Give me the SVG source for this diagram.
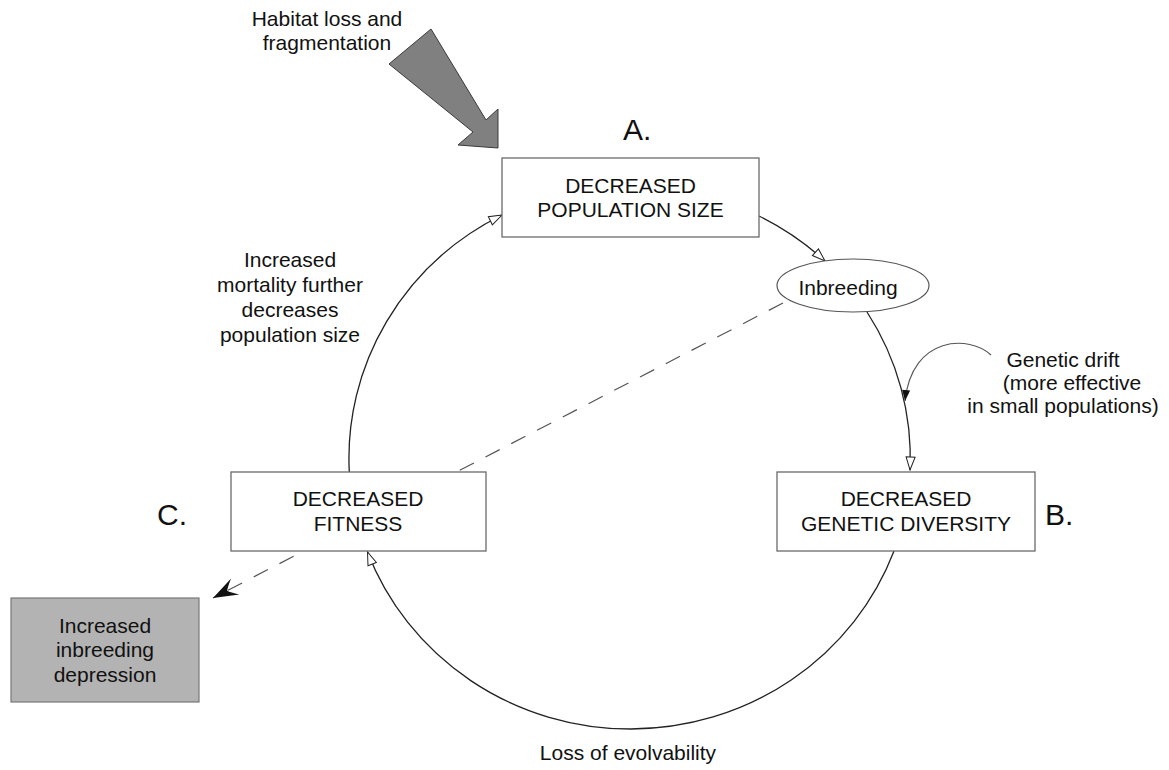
<svg xmlns="http://www.w3.org/2000/svg" width="1169" height="770" viewBox="0 0 1169 770">
<style>
.box{fill:#fff;stroke:#6a6a6a;stroke-width:1.3}
.t{font-family:"Liberation Sans",Arial,sans-serif;font-size:21px;fill:#111;text-anchor:middle}
.big{font-family:"Liberation Sans",Arial,sans-serif;font-size:30px;fill:#111}
.arc{fill:none;stroke:#222;stroke-width:1.3}
.dash{fill:none;stroke:#555;stroke-width:1.2;stroke-dasharray:16 13}
</style>
<defs>
<marker id="open" markerUnits="userSpaceOnUse" viewBox="-15 -6 16 12" markerWidth="16" markerHeight="12" refX="0" refY="0" orient="auto">
<path d="M0,0 L-13,-4.5 L-13,4.5 Z" fill="#fff" stroke="#222" stroke-width="1"/>
</marker>
<marker id="stealth" markerUnits="userSpaceOnUse" viewBox="-27 -11 28 22" markerWidth="28" markerHeight="22" refX="0" refY="0" orient="auto">
<path d="M0,0 L-25,-9 Q-18,-3 -16,0 Q-18,3 -25,9 Z" fill="#111" stroke="none"/>
</marker>
<marker id="solid" markerUnits="userSpaceOnUse" viewBox="-13 -6 14 12" markerWidth="14" markerHeight="12" refX="0" refY="0" orient="auto">
<path d="M0,0 L-11,-4 L-11,4 Z" fill="#111" stroke="none"/>
</marker>
</defs>
<rect width="1169" height="770" fill="#fff"/>
<g id="connectors">
<path class="dash" d="M783 303 L213 598" marker-end="url(#stealth)"/>
<path class="arc" d="M349.3 472 A281 273 0 0 1 502 215" marker-end="url(#open)"/>
<path class="arc" d="M759 216 A281 273 0 0 1 825 261" marker-end="url(#open)"/>
<path class="arc" d="M867 312 A281 273 0 0 1 910 470" marker-end="url(#open)"/>
<path class="arc" d="M894 551 A281 273 0 0 1 367.5 552" marker-end="url(#open)"/>
<path d="M991 355 C970 335 912 335 905 401" fill="none" stroke="#555" stroke-width="1.1" marker-end="url(#solid)"/>
</g>
<g id="habitat">
<polygon points="431,29 486,120 498,109 498,148 458,145 473,132 389,64" fill="#808080" stroke="#3a3a3a" stroke-width="1"/>
<text class="t" x="327" y="26">Habitat loss and</text>
<text class="t" x="327" y="50">fragmentation</text>
</g>
<g id="nodeA">
<text class="big" x="623" y="140">A.</text>
<rect class="box" x="502" y="158" width="257" height="79"/>
<text class="t" x="630.5" y="193">DECREASED</text>
<text class="t" x="630.5" y="217">POPULATION SIZE</text>
</g>
<g id="inbreeding">
<ellipse cx="853" cy="285.5" rx="76" ry="26.5" fill="#fff" stroke="#555" stroke-width="1.2"/>
<text class="t" x="848" y="295">Inbreeding</text>
</g>
<g id="drift">
<text class="t" x="1063" y="367">Genetic drift</text>
<text class="t" x="1072" y="390">(more effective</text>
<text class="t" x="1063" y="413">in small populations)</text>
</g>
<g id="nodeB">
<rect class="box" x="777" y="472" width="258" height="79"/>
<text class="t" x="906" y="506">DECREASED</text>
<text class="t" x="906" y="531">GENETIC DIVERSITY</text>
<text class="big" x="1045" y="525">B.</text>
</g>
<g id="nodeC">
<rect class="box" x="231" y="472" width="255" height="79"/>
<text class="t" x="358" y="506">DECREASED</text>
<text class="t" x="358" y="531">FITNESS</text>
<text class="big" x="157" y="525">C.</text>
</g>
<g id="mortality">
<text class="t" x="290" y="267">Increased</text>
<text class="t" x="290" y="292">mortality further</text>
<text class="t" x="290" y="317">decreases</text>
<text class="t" x="290" y="342">population size</text>
</g>
<g id="depression">
<rect x="11" y="598" width="188" height="104" fill="#b3b3b3" stroke="#777" stroke-width="1.2"/>
<text class="t" x="105" y="633">Increased</text>
<text class="t" x="105" y="657">inbreeding</text>
<text class="t" x="105" y="682">depression</text>
</g>
<g id="evolvability">
<text class="t" x="628" y="760">Loss of evolvability</text>
</g>
</svg>
